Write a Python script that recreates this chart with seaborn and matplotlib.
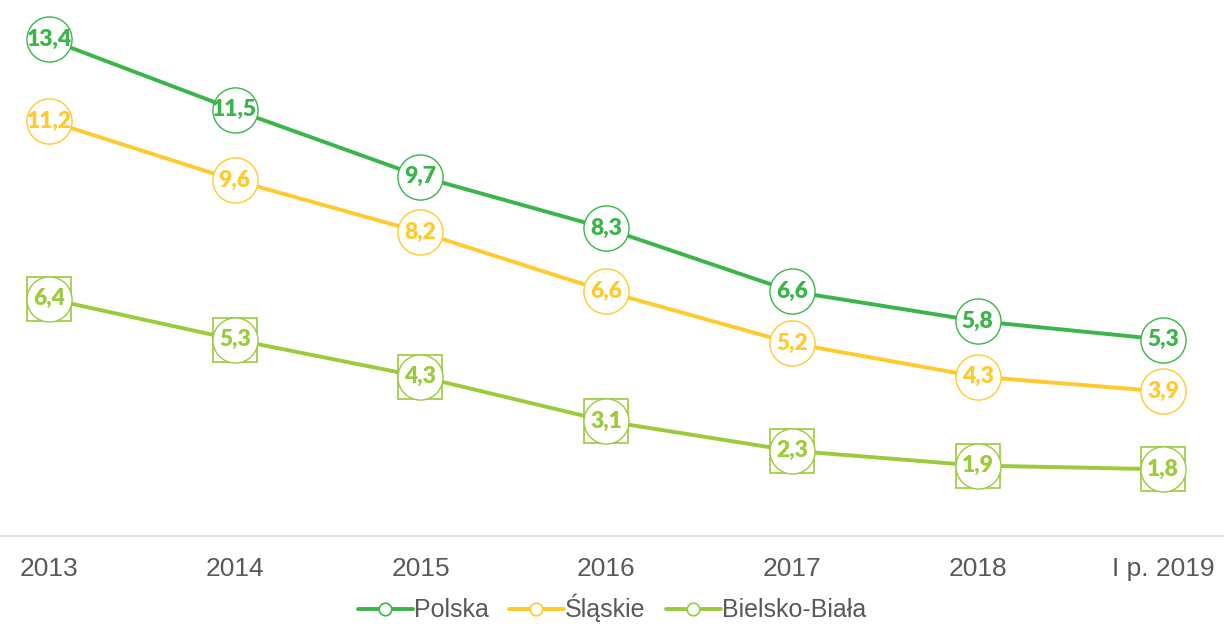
import pandas as pd
import matplotlib.pyplot as plt
from matplotlib.lines import Line2D
import seaborn as sns

YEARS = ['2013', '2014', '2015', '2016', '2017', '2018', 'I p. 2019']
POLSKA = [13.4, 11.5, 9.7, 8.3, 6.6, 5.8, 5.3]
SLASKIE = [11.2, 9.6, 8.2, 6.6, 5.2, 4.3, 3.9]
BIELSKO = [6.4, 5.3, 4.3, 3.1, 2.3, 1.9, 1.8]
SERIES = ['Polska', 'Śląskie', 'Bielsko-Biała']
COLORS = ['#3AB54A', '#FFCA2C', '#9BCB3B']

df = pd.DataFrame({
    'rok': YEARS * 3,
    'x': list(range(len(YEARS))) * 3,
    'val': POLSKA + SLASKIE + BIELSKO,
    'seria': [s for s in SERIES for _ in YEARS],
})

sns.set_style('white')
plt.rcParams['font.family'] = ['Liberation Sans', 'DejaVu Sans']

fig = plt.figure(figsize=(12.24, 6.26), dpi=100)
ax = fig.add_axes([0, 0.1438, 1, 0.856])

sns.lineplot(data=df, x='x', y='val', hue='seria', palette=COLORS,
             linewidth=2.8, legend=False, ax=ax, zorder=2)

# labels boxes (Excel callouts)
for name, color in zip(SERIES, COLORS):
    d = df[df['seria'] == name]
    if name == 'Bielsko-Biała':
        ax.plot(d['x'], d['val'], ls='none', marker='s', ms=32, mfc='white',
                mec=color, mew=1.2, zorder=3)
    ax.plot(d['x'], d['val'], ls='none', marker='o', ms=32.5, mfc='white',
            mec=color, mew=1.0, zorder=4)
    for xi, v in zip(d['x'], d['val']):
        ax.text(xi, v, f'{v:.1f}'.replace('.', ','), ha='center', va='center',
                fontsize=16.5, fontweight='heavy', color=color,
                family=['Lato', 'DejaVu Sans'], zorder=5)

ax.set_xlim(-0.264, 6.327)
ax.set_ylim(0, 14.46)
ax.set_xticks(range(len(YEARS)))
ax.set_xticklabels(YEARS, fontsize=19, color='#595959')
ax.tick_params(axis='x', length=0, pad=15)
ax.set_yticks([])
ax.set_xlabel('')
ax.set_ylabel('')
for s in ['top', 'left', 'right']:
    ax.spines[s].set_visible(False)
ax.spines['bottom'].set_color('#D9D9D9')
ax.spines['bottom'].set_linewidth(1.2)

handles = [Line2D([0], [0], color=c, lw=2.8, marker='o', ms=9, mfc='white',
                  mec=c, mew=1.2) for c in COLORS]
fig.legend(handles, SERIES, loc='lower center', ncol=3, frameon=False,
           bbox_to_anchor=(0.5, -0.03), fontsize=18, labelcolor='#595959',
           handlelength=2.2, handletextpad=0.05, columnspacing=0.8)

plt.savefig('out.png', dpi=100)
